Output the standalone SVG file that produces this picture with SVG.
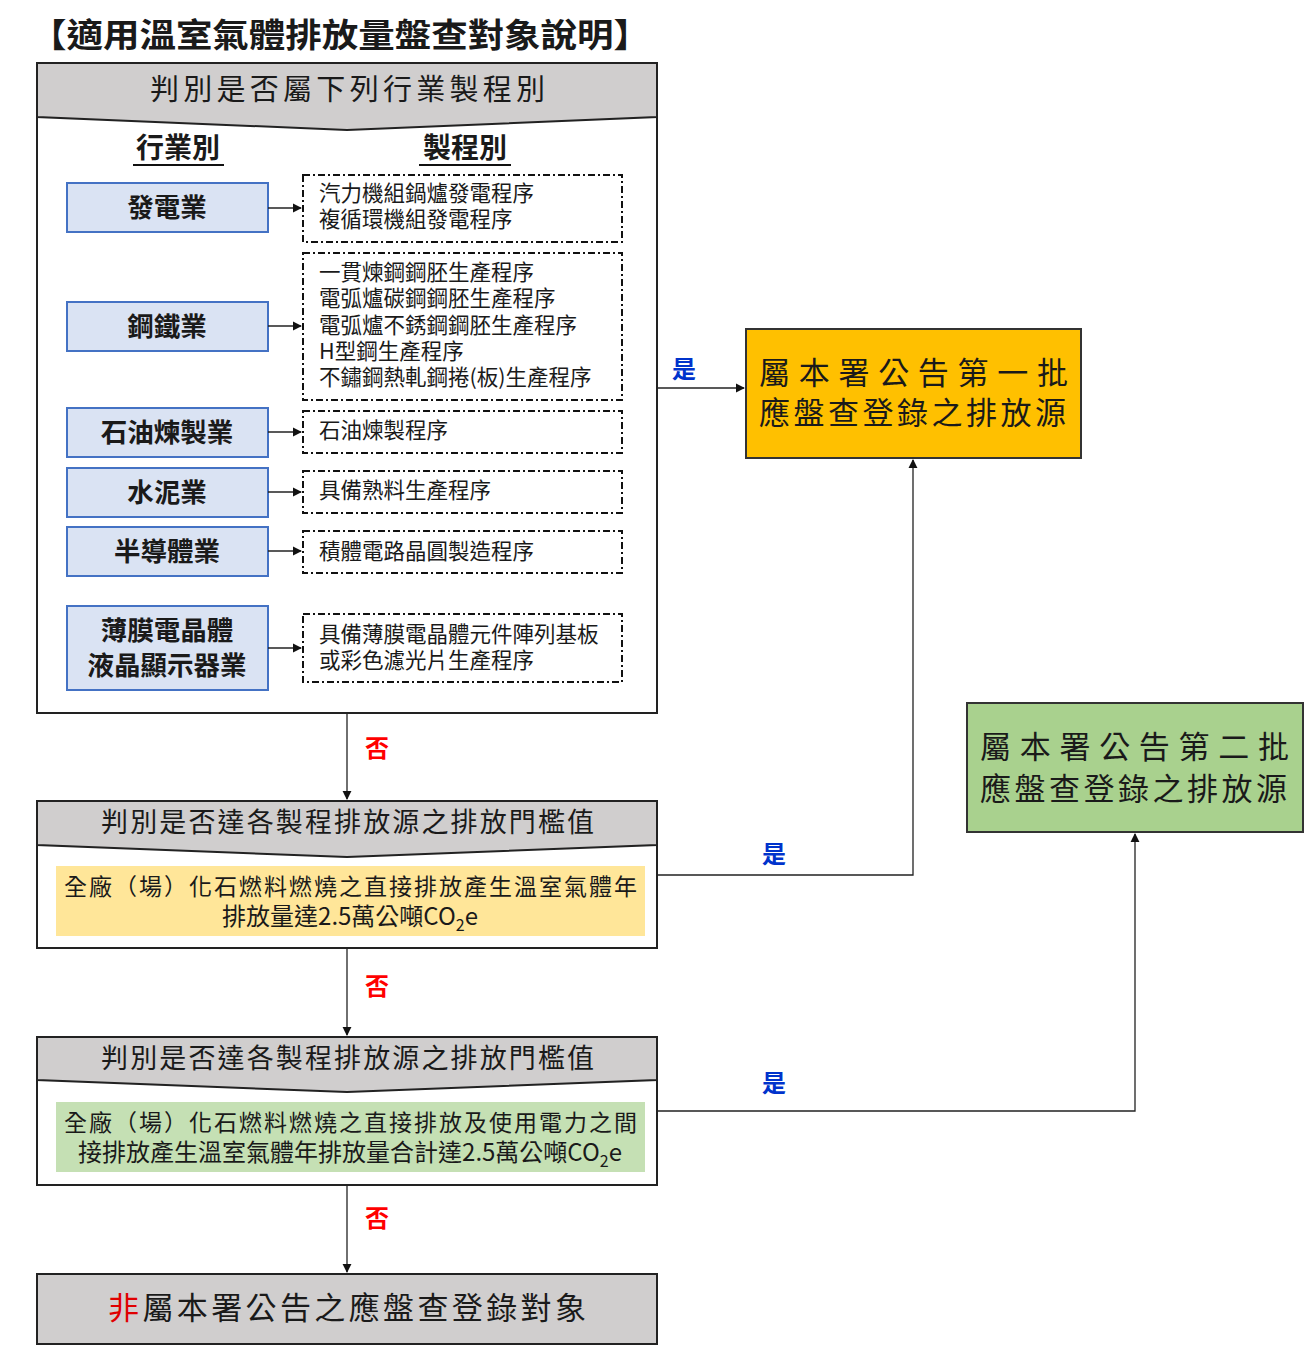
<svg xmlns="http://www.w3.org/2000/svg" width="1312" height="1350" viewBox="0 0 1312 1350">
<style>
text{font-family:"Noto Sans CJK TC","Noto Sans CJK SC",sans-serif;fill:#1a1a1a}
.frame{fill:#fff;stroke:#222;stroke-width:2}
.hdr{fill:#d0cece;stroke:#222;stroke-width:2}
.ind{fill:#dae3f3;stroke:#4472c4;stroke-width:2}
.indt{font-size:26.5px;font-weight:bold;text-anchor:middle}
.proc{fill:none;stroke:#111;stroke-width:2;stroke-dasharray:7,3,2,3}
.pt{font-size:21.5px}
.ln{fill:none;stroke:#222;stroke-width:1.3}
.yes{font-size:24px;font-weight:bold;fill:#0033cc}
.no{font-size:24px;font-weight:bold;fill:#ff0000}
</style>
<defs><marker id="a" viewBox="0 0 10 10" refX="9" refY="5" markerWidth="7" markerHeight="7" orient="auto"><path d="M0,0L10,5L0,10z" fill="#111"/></marker></defs>
<text x="30" y="47" font-size="33" font-weight="bold" textLength="620" lengthAdjust="spacingAndGlyphs">【適用溫室氣體排放量盤查對象說明】</text>

<g id="box1">
<rect class="frame" x="37" y="63" width="620" height="650"/>
<polygon class="hdr" points="37,63 657,63 657,117 347,130 37,117"/>
<text x="150" y="100" font-size="29" textLength="395">判別是否屬下列行業製程別</text>
<text x="178" y="158" font-size="28" font-weight="bold" text-anchor="middle">行業別</text>
<line x1="133" y1="165" x2="224" y2="165" stroke="#111" stroke-width="2"/>
<text x="465" y="158" font-size="28" font-weight="bold" text-anchor="middle">製程別</text>
<line x1="419" y1="165" x2="511" y2="165" stroke="#111" stroke-width="2"/>
</g>
<g id="ind1"><rect class="ind" x="67" y="183" width="201" height="49"/><text class="indt" x="167" y="217">發電業</text></g>
<g id="ind2"><rect class="ind" x="67" y="302" width="201" height="49"/><text class="indt" x="167" y="336">鋼鐵業</text></g>
<g id="ind3"><rect class="ind" x="67" y="408" width="201" height="49"/><text class="indt" x="167" y="442">石油煉製業</text></g>
<g id="ind4"><rect class="ind" x="67" y="468" width="201" height="49"/><text class="indt" x="167" y="502">水泥業</text></g>
<g id="ind5"><rect class="ind" x="67" y="527" width="201" height="49"/><text class="indt" x="167" y="561">半導體業</text></g>
<g id="ind6"><rect class="ind" x="67" y="606" width="201" height="84"/><text class="indt" x="167" y="640">薄膜電晶體</text><text class="indt" x="167" y="675">液晶顯示器業</text></g>

<g id="proc1"><rect class="proc" x="303" y="175" width="319" height="67"/><text class="pt" x="319" y="201">汽力機組鍋爐發電程序</text><text class="pt" x="319" y="227">複循環機組發電程序</text></g>
<g id="proc2"><rect class="proc" x="303" y="253" width="319" height="147"/>
<text class="pt" x="319" y="280">一貫煉鋼鋼胚生產程序</text><text class="pt" x="319" y="306">電弧爐碳鋼鋼胚生產程序</text><text class="pt" x="319" y="333">電弧爐不銹鋼鋼胚生產程序</text><text class="pt" x="319" y="359">H型鋼生產程序</text><text class="pt" x="319" y="385">不鏽鋼熱軋鋼捲(板)生產程序</text></g>
<g id="proc3"><rect class="proc" x="303" y="411" width="319" height="42"/><text class="pt" x="319" y="438">石油煉製程序</text></g>
<g id="proc4"><rect class="proc" x="303" y="471" width="319" height="42"/><text class="pt" x="319" y="498">具備熟料生產程序</text></g>
<g id="proc5"><rect class="proc" x="303" y="531" width="319" height="42"/><text class="pt" x="319" y="559">積體電路晶圓製造程序</text></g>
<g id="proc6"><rect class="proc" x="303" y="614" width="319" height="68"/><text class="pt" x="319" y="642">具備薄膜電晶體元件陣列基板</text><text class="pt" x="319" y="668">或彩色濾光片生產程序</text></g>

<g id="first"><rect x="746" y="329" width="335" height="129" fill="#ffc000" stroke="#333" stroke-width="2"/>
<text x="759" y="384" font-size="31" textLength="309">屬本署公告第一批</text><text x="759" y="424" font-size="31" textLength="307">應盤查登錄之排放源</text></g>
<g id="second"><rect x="967" y="703" width="336" height="129" fill="#a9d18e" stroke="#333" stroke-width="2"/>
<text x="980" y="758" font-size="31" textLength="309">屬本署公告第二批</text><text x="980" y="800" font-size="31" textLength="307">應盤查登錄之排放源</text></g>

<g id="box2"><rect class="frame" x="37" y="801" width="620" height="147"/>
<polygon class="hdr" points="37,801 657,801 657,845 347,857 37,845"/>
<text x="101" y="832" font-size="27" textLength="493">判別是否達各製程排放源之排放門檻值</text>
<rect x="56" y="866" width="589" height="70" fill="#ffe699"/>
<text x="64" y="895" font-size="23" textLength="573">全廠（場）化石燃料燃燒之直接排放產生溫室氣體年</text>
<text x="350" y="925" font-size="24" text-anchor="middle">排放量達2.5萬公噸CO<tspan font-size="16" dy="6">2</tspan><tspan dy="-6">e</tspan></text></g>

<g id="box3"><rect class="frame" x="37" y="1037" width="620" height="148"/>
<polygon class="hdr" points="37,1037 657,1037 657,1080 347,1092 37,1080"/>
<text x="101" y="1068" font-size="27" textLength="493">判別是否達各製程排放源之排放門檻值</text>
<rect x="56" y="1102" width="589" height="70" fill="#c5e0b4"/>
<text x="64" y="1131" font-size="23" textLength="573">全廠（場）化石燃料燃燒之直接排放及使用電力之間</text>
<text x="350" y="1161" font-size="24" text-anchor="middle">接排放產生溫室氣體年排放量合計達2.5萬公噸CO<tspan font-size="16" dy="6">2</tspan><tspan dy="-6">e</tspan></text></g>

<g id="final"><rect x="37" y="1274" width="620" height="70" fill="#d0cece" stroke="#222" stroke-width="2"/>
<text x="108" y="1319" font-size="31" textLength="478"><tspan fill="#e00000">非</tspan>屬本署公告之應盤查登錄對象</text></g>

<g id="connectors">
<path class="ln" d="M268,208H301" marker-end="url(#a)"/>
<path class="ln" d="M268,326H301" marker-end="url(#a)"/>
<path class="ln" d="M268,432H301" marker-end="url(#a)"/>
<path class="ln" d="M268,492H301" marker-end="url(#a)"/>
<path class="ln" d="M268,551H301" marker-end="url(#a)"/>
<path class="ln" d="M268,648H301" marker-end="url(#a)"/>
<path class="ln" d="M657,388H744" marker-end="url(#a)"/>
<path class="ln" d="M657,875H913V460" marker-end="url(#a)"/>
<path class="ln" d="M657,1111H1135V834" marker-end="url(#a)"/>
<path class="ln" d="M347,713V799" marker-end="url(#a)"/>
<path class="ln" d="M347,948V1035" marker-end="url(#a)"/>
<path class="ln" d="M347,1185V1272" marker-end="url(#a)"/>
<text class="yes" x="672" y="378">是</text>
<text class="yes" x="762" y="863">是</text>
<text class="yes" x="762" y="1092">是</text>
<text class="no" x="365" y="757">否</text>
<text class="no" x="365" y="995">否</text>
<text class="no" x="365" y="1227">否</text>
</g>
</svg>
